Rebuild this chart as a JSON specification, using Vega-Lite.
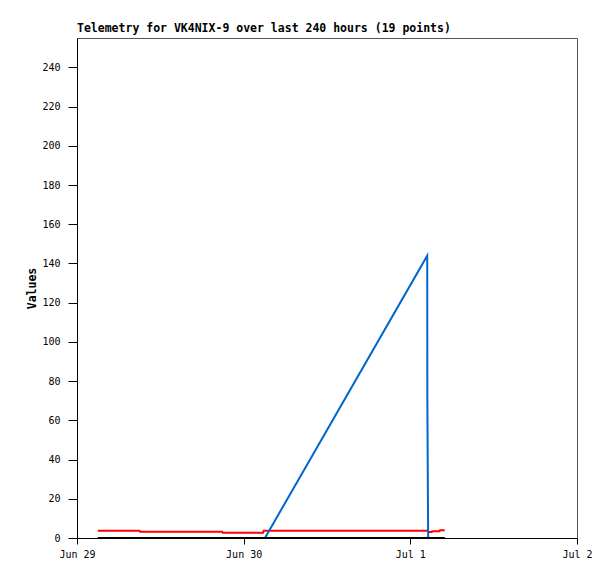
{
  "$schema": "https://vega.github.io/schema/vega-lite/v6.json",
  "width": 500,
  "height": 500,
  "autosize": "none",
  "padding": {"left": 77, "top": 38, "right": 38, "bottom": 41},
  "background": "white",
  "config": {
    "view": {"stroke": "#555555", "strokeWidth": 1},
    "axis": {"grid": false, "domainColor": "#000000", "tickColor": "#000000", "labelColor": "#000000", "labelFont": "DejaVu Sans Mono", "labelFontSize": 10, "titleFont": "DejaVu Sans Mono", "titleColor": "#000000"}
  },
  "title": {"text": "Telemetry for VK4NIX-9 over last 240 hours (19 points)", "anchor": "start", "frame": "group", "font": "DejaVu Sans Mono", "fontSize": 11.5, "fontWeight": "bold", "color": "#000000", "offset": 4},
  "data": {"values": [
    {"t": "2024-06-29T03:00:00Z", "series": "red", "v": 3.7},
    {"t": "2024-06-29T09:00:00Z", "series": "red", "v": 3.7},
    {"t": "2024-06-29T09:05:00Z", "series": "red", "v": 3.2},
    {"t": "2024-06-29T20:55:00Z", "series": "red", "v": 3.2},
    {"t": "2024-06-29T21:00:00Z", "series": "red", "v": 2.7},
    {"t": "2024-06-30T02:48:00Z", "series": "red", "v": 2.7},
    {"t": "2024-06-30T02:53:00Z", "series": "red", "v": 3.7},
    {"t": "2024-07-01T02:25:00Z", "series": "red", "v": 3.7},
    {"t": "2024-07-01T02:40:00Z", "series": "red", "v": 3.0},
    {"t": "2024-07-01T03:05:00Z", "series": "red", "v": 3.0},
    {"t": "2024-07-01T03:10:00Z", "series": "red", "v": 3.4},
    {"t": "2024-07-01T04:12:00Z", "series": "red", "v": 3.4},
    {"t": "2024-07-01T04:17:00Z", "series": "red", "v": 3.9},
    {"t": "2024-07-01T04:57:00Z", "series": "red", "v": 3.9},
    {"t": "2024-06-29T03:00:00Z", "series": "blue", "v": 0},
    {"t": "2024-06-30T03:04:00Z", "series": "blue", "v": 0},
    {"t": "2024-07-01T02:26:00Z", "series": "blue", "v": 144},
    {"t": "2024-07-01T02:27:00Z", "series": "blue", "v": 72},
    {"t": "2024-07-01T02:34:00Z", "series": "blue", "v": 0},
    {"t": "2024-07-01T04:57:00Z", "series": "blue", "v": 0},
    {"t": "2024-06-29T03:00:00Z", "series": "black", "v": 0},
    {"t": "2024-07-01T04:57:00Z", "series": "black", "v": 0}
  ]},
  "encoding": {
    "x": {"field": "t", "type": "temporal", "title": null,
      "scale": {"type": "utc", "domain": ["2024-06-29T00:00:00Z", "2024-07-02T00:00:00Z"], "nice": false},
      "axis": {"format": "%b %-d", "tickCount": {"interval": "day", "step": 1}, "tickSize": 6, "labelPadding": 5, "labelFlush": false, "labelOverlap": false}},
    "y": {"field": "v", "type": "quantitative", "title": "Values",
      "scale": {"domain": [0, 255], "nice": false, "zero": true},
      "axis": {"values": [0, 20, 40, 60, 80, 100, 120, 140, 160, 180, 200, 220, 240], "tickSize": 9, "labelPadding": 8, "titleFontSize": 11.5, "titleFontWeight": "bold", "titlePadding": 4}}
  },
  "layer": [
    {"transform": [{"filter": "datum.series === 'red'"}], "mark": {"type": "line", "color": "#ff0000", "strokeWidth": 2, "clip": true}},
    {"transform": [{"filter": "datum.series === 'blue'"}], "mark": {"type": "line", "color": "#0066cc", "strokeWidth": 2, "clip": true}},
    {"transform": [{"filter": "datum.series === 'black'"}], "mark": {"type": "line", "color": "#000000", "strokeWidth": 2, "clip": true}}
  ]
}
